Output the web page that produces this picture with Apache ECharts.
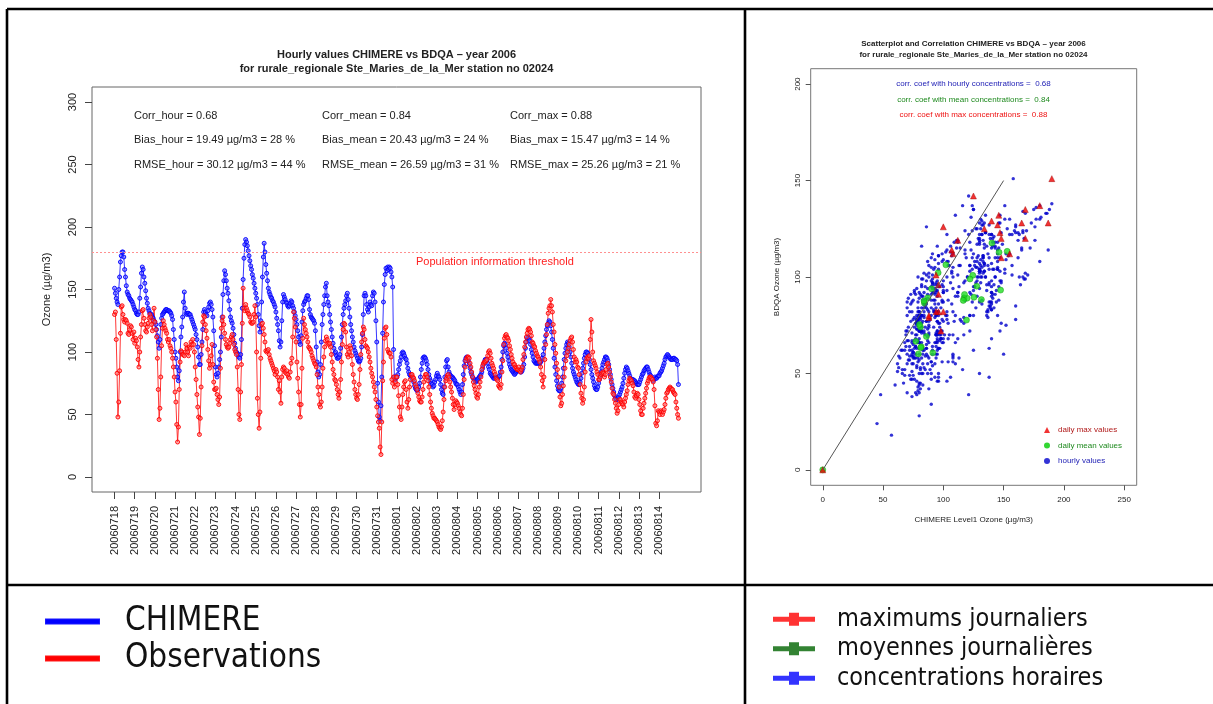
<!DOCTYPE html>
<html>
<head>
<meta charset="utf-8">
<script src="https://cdn.jsdelivr.net/npm/echarts@6/dist/echarts.min.js"></script>
<style>
  html, body { margin: 0; padding: 0; background: #ffffff; }
  #chart { width: 1213px; height: 704px; }
</style>
</head>
<body>
<div id="chart"></div>
<script>
// ---- Data: hourly ozone at Ste_Maries_de_la_Mer, 2006-07-18 .. 2006-08-14 (24 values per day) ----
const dayLabels = ['20060718','20060719','20060720','20060721','20060722','20060723','20060724',
  '20060725','20060726','20060727','20060728','20060729','20060730','20060731','20060801',
  '20060802','20060803','20060804','20060805','20060806','20060807','20060808','20060809',
  '20060810','20060811','20060812','20060813','20060814'];

// CHIMERE model, µg/m3
const chimere = [
  151,147,143,140,138,150,160,172,177,180,180,176,166,160,153,148,146,145,143,142,141,140,138,136,
  134,133,131,130,130,132,143,152,163,168,166,160,155,149,143,139,135,133,131,130,130,128,127,125,
  124,122,118,113,108,103,110,122,127,130,131,132,133,134,134,133,133,133,132,131,129,126,118,110,
  100,95,88,80,77,85,100,112,120,128,140,148,135,131,130,131,131,130,130,128,126,124,122,120,
  118,114,110,104,96,90,90,98,108,118,132,134,132,130,129,133,136,139,140,138,134,128,117,105,
  88,82,80,83,88,94,100,112,128,146,157,165,162,157,151,147,141,134,128,125,123,119,114,107,
  103,100,99,98,96,95,98,110,135,158,175,186,190,188,185,181,177,173,169,166,162,159,155,151,
  147,143,138,130,121,116,125,140,160,176,187,180,170,163,157,151,148,146,144,143,141,140,138,136,
  132,127,122,117,109,104,108,125,140,146,144,142,140,139,137,136,137,139,141,140,137,135,132,129,
  126,122,117,112,108,106,113,124,133,138,140,141,143,145,145,142,134,130,128,127,126,125,123,117,
  104,92,84,80,82,90,108,122,130,138,145,152,155,145,140,137,130,124,118,112,107,103,99,100,
  97,95,95,96,98,103,112,122,130,135,138,141,145,147,142,135,128,122,117,112,108,104,101,99,
  97,95,93,92,93,95,104,114,130,145,147,145,138,134,132,136,140,138,137,145,148,147,140,125,
  108,75,60,48,45,57,80,115,140,154,162,167,165,168,166,168,167,164,160,152,102,80,78,80,
  80,82,86,90,93,96,99,100,99,97,95,94,91,87,84,82,81,80,79,78,76,73,71,70,
  69,70,72,75,80,86,91,95,96,96,95,93,90,86,82,79,77,75,74,72,73,76,78,81,
  83,81,80,78,74,70,67,66,72,80,88,93,94,88,84,82,81,80,80,79,78,77,75,74,
  74,72,70,68,66,68,74,82,89,93,95,96,95,93,90,87,84,82,80,79,78,77,76,77,
  78,79,80,81,82,84,87,90,92,94,94,93,91,88,86,83,82,81,80,79,79,80,80,79,
  79,80,81,84,88,94,100,105,107,106,103,99,96,93,90,88,86,85,84,83,82,83,84,85,
  86,85,85,84,84,85,87,90,96,103,108,111,112,111,109,106,102,99,96,93,92,91,91,91,
  91,91,91,92,93,95,98,103,108,113,118,121,123,125,124,121,116,110,103,95,88,82,77,73,
  70,69,69,71,75,80,87,94,99,103,106,108,107,104,100,96,91,87,84,82,80,78,76,75,
  74,74,76,79,83,87,91,95,98,100,100,99,97,94,90,86,82,79,76,73,71,70,70,72,
  75,78,81,84,87,90,92,94,96,96,95,93,90,86,82,78,74,71,68,65,63,62,62,63,
  64,66,68,70,72,75,79,83,86,88,87,85,83,81,79,78,78,78,77,77,76,75,74,74,
  74,76,78,80,82,83,85,86,87,88,88,86,84,82,81,79,78,77,78,80,79,79,80,81,
  81,83,84,85,87,89,91,94,96,97,98,97,96,95,94,94,94,95,95,94,94,93,90,74
];

// BDQA observations, µg/m3
const observations = [
  130,132,110,83,48,60,85,115,136,137,130,126,124,126,125,123,115,114,118,121,120,115,110,116,
  107,111,109,104,94,88,100,112,122,133,134,127,122,117,116,120,123,127,130,128,122,117,125,135,
  124,118,112,95,70,46,55,80,105,119,125,122,119,117,115,110,108,110,105,103,100,95,88,80,
  68,60,42,28,40,70,92,101,100,98,98,97,100,106,103,100,97,104,103,108,106,110,106,100,
  88,78,66,56,48,34,47,72,105,124,129,128,122,117,111,102,93,87,90,97,106,90,76,70,
  70,71,66,62,58,64,87,119,125,128,122,115,110,106,104,103,104,107,110,112,114,110,106,102,
  100,98,88,70,50,46,68,90,123,151,135,133,138,135,133,131,130,128,124,123,123,124,130,137,
  128,100,63,50,39,52,95,122,123,119,114,108,101,100,101,102,98,95,93,91,89,87,85,82,
  86,84,80,70,77,68,59,80,86,88,87,84,83,85,82,80,79,84,91,95,112,132,127,120,
  108,92,79,68,58,48,58,87,111,127,122,118,115,112,108,104,103,102,100,97,95,93,91,90,
  88,82,72,66,58,56,60,72,87,96,104,109,112,110,107,106,107,104,98,92,86,82,78,77,
  74,70,66,63,68,78,92,106,118,123,122,116,104,98,96,100,105,103,97,90,82,76,70,66,
  63,62,66,74,86,98,108,115,120,118,110,105,104,103,100,96,92,87,83,80,76,72,68,62,
  56,49,44,39,24,18,44,77,92,111,119,120,114,102,100,99,99,96,78,75,80,72,76,80,
  80,74,65,56,48,46,56,66,72,76,77,70,60,55,62,72,78,82,82,80,79,77,74,72,
  70,67,64,61,60,60,64,70,76,80,82,82,80,77,72,66,60,55,51,49,47,47,46,45,
  44,42,40,39,38,40,45,52,62,72,77,79,81,82,80,76,72,68,63,58,54,58,61,60,
  59,57,55,52,50,49,55,66,78,88,93,95,96,96,95,91,88,84,80,76,73,70,67,64,
  63,66,72,76,80,86,89,91,92,92,93,94,97,100,101,99,95,91,89,87,84,82,79,78,
  77,73,72,71,74,84,93,106,111,113,114,112,111,109,105,102,98,95,92,90,90,88,87,86,
  86,88,85,84,86,88,94,98,104,108,112,115,118,119,118,116,113,108,107,105,104,101,99,97,
  96,94,92,88,82,77,72,80,94,106,114,122,131,135,137,142,137,132,122,116,106,99,91,86,
  80,72,64,57,59,66,73,80,87,93,97,100,103,106,109,111,112,108,102,96,92,94,92,88,
  87,82,74,67,63,59,62,72,84,92,95,96,95,97,110,126,116,100,93,91,89,87,84,82,
  78,78,80,82,83,84,83,80,82,86,90,91,88,84,80,76,71,67,66,62,59,55,51,53,
  58,62,62,60,59,58,56,60,63,66,69,74,77,79,78,77,75,73,68,64,63,65,67,66,
  62,58,53,50,50,55,59,63,67,71,75,77,79,80,80,79,78,76,70,57,43,41,45,53,
  52,50,53,52,50,52,54,58,63,67,68,70,71,72,71,70,70,68,67,66,60,55,50,47
];

// Axis ticks
const ozoneTicks = [0, 50, 100, 150, 200, 250, 300];
const scatterTicksX = [0, 50, 100, 150, 200, 250];
const scatterTicksY = [0, 50, 100, 150, 200];

// Reference values
const informationThreshold = 180;
const identityLine = [0, 150];
const originPoint = [0, 0];

// Statistics printed in the time-series panel
const statRows = [
  ['Corr_hour = 0.68', 'Corr_mean = 0.84', 'Corr_max = 0.88'],
  ['Bias_hour = 19.49 \u00b5g/m3 = 28 %', 'Bias_mean = 20.43 \u00b5g/m3 = 24 %', 'Bias_max = 15.47 \u00b5g/m3 = 14 %'],
  ['RMSE_hour = 30.12 \u00b5g/m3 = 44 %', 'RMSE_mean = 26.59 \u00b5g/m3 = 31 %', 'RMSE_max = 25.26 \u00b5g/m3 = 21 %']
];
const corrLines = [
  ['corr. coef with hourly concentrations =  0.68', '#1c1cb4'],
  ['corr. coef with mean concentrations =  0.84', '#1f8a1f'],
  ['corr. coef with max concentrations =  0.88', '#ee1111']
];

// ---- Derived series ----
const HOURS = 24;
const hourIndex = chimere.map((_, i) => i);
const chimereLine = chimere.map((v, i) => [hourIndex[i], v]);
const obsLine = observations.map((v, i) => [hourIndex[i], v]);
const hourlyPairs = chimere.map((v, i) => [v, observations[i]]);

function perDay(arr, fn) {
  const out = [];
  for (let d = 0; d < dayLabels.length; d++) out.push(fn(arr.slice(d * HOURS, (d + 1) * HOURS)));
  return out;
}
const mean = a => a.reduce((s, v) => s + v, 0) / a.length;
const max = a => Math.max.apply(null, a);
const chimMean = perDay(chimere, mean), obsMean = perDay(observations, mean);
const chimMax = perDay(chimere, max), obsMax = perDay(observations, max);
const meanPairs = [originPoint].concat(chimMean.map((v, d) => [v, obsMean[d]]));
const maxPairs = [originPoint].concat(chimMax.map((v, d) => [v, obsMax[d]]));
const dayTicks = dayLabels.map((_, d) => d * HOURS);

// ---- Styling ----
const FONT = "'Liberation Sans', Arial, Helvetica, sans-serif";
const NARROW = "'Liberation Sans Narrow', 'Arial Narrow', 'DejaVu Sans Condensed', sans-serif";
const INK = '#222';

const SER_MAX = 'maximums journaliers';
const SER_MEAN = 'moyennes journali\u00e8res';
const SER_HOUR = 'concentrations horaires';
const plotLegendNames = {};
plotLegendNames[SER_MAX] = 'daily max values';
plotLegendNames[SER_MEAN] = 'daily mean values';
plotLegendNames[SER_HOUR] = 'hourly values';

// Table frame and panel annotations
const frame = [
  [7, 9, 1213, 9], [7, 9, 7, 704], [745, 9, 745, 704], [7, 585, 1213, 585]
].map(s => ({
  type: 'line', shape: { x1: s[0], y1: s[1], x2: s[2], y2: s[3] },
  style: { stroke: '#000', lineWidth: 2.6 }, silent: true
}));

const statColX = [134, 322, 510];
const statRowY = [116, 140, 165];
const statTexts = [];
statRows.forEach((row, r) => row.forEach((t, c) => statTexts.push({
  type: 'text', x: statColX[c], y: statRowY[r],
  style: { text: t, fill: INK, font: '11px ' + FONT, textAlign: 'left', textVerticalAlign: 'middle' }
})));

const corrTexts = corrLines.map((c, i) => ({
  type: 'text', x: 973.5, y: [83.5, 99.5, 115][i],
  style: { text: c[0], fill: c[1], font: '8px ' + FONT, textAlign: 'center', textVerticalAlign: 'middle' }
}));

const thresholdText = {
  type: 'text', x: 416, y: 262,
  style: { text: 'Population information threshold', fill: '#ff2020', font: '11px ' + FONT,
           textAlign: 'left', textVerticalAlign: 'middle' }
};

const crossIcon = 'path://M0,4H16V0H26V4H42V9H26V13H16V9H0Z';

const hiddenLine = { show: false, onZero: false };

const option = {
  animation: false,
  backgroundColor: '#ffffff',
  textStyle: { fontFamily: FONT },
  title: [
    {
      text: 'Hourly values CHIMERE vs BDQA \u2013 year 2006\nfor rurale_regionale Ste_Maries_de_la_Mer station no 02024',
      left: 396.5, top: 48, textAlign: 'center', padding: 0,
      textStyle: { fontSize: 11, fontWeight: 'bold', color: INK, lineHeight: 14, fontFamily: FONT }
    },
    {
      text: 'Scatterplot and Correlation CHIMERE vs BDQA \u2013 year 2006\nfor rurale_regionale Ste_Maries_de_la_Mer station no 02024',
      left: 973.5, top: 38.5, textAlign: 'center', padding: 0,
      textStyle: { fontSize: 8, fontWeight: 'bold', color: INK, lineHeight: 10.7, fontFamily: FONT }
    }
  ],
  grid: [
    { left: 92, top: 87, width: 609, height: 405, show: true, borderColor: '#666', borderWidth: 1, backgroundColor: 'transparent' },
    { left: 810.7, top: 68.7, width: 326, height: 416.6, show: true, borderColor: '#777', borderWidth: 1, backgroundColor: 'transparent' }
  ],
  xAxis: [
    {
      gridIndex: 0, type: 'value', min: -26.84, max: 697.84,
      axisLine: hiddenLine,
      splitLine: { show: false },
      axisTick: { show: true, length: 7, inside: false, customValues: dayTicks, lineStyle: { color: '#444' } },
      axisLabel: {
        show: true, customValues: dayTicks, rotate: 90, margin: 14,
        fontSize: 11, color: INK, fontFamily: FONT,
        formatter: v => dayLabels[Math.round(v / HOURS)]
      }
    },
    {
      gridIndex: 1, type: 'value', min: -10, max: 260.4,
      name: 'CHIMERE Level1 Ozone (\u00b5g/m3)', nameLocation: 'middle', nameGap: 30,
      nameTextStyle: { fontSize: 8, color: INK, fontFamily: FONT },
      axisLine: hiddenLine,
      splitLine: { show: false },
      axisTick: { show: true, length: 5, customValues: scatterTicksX, lineStyle: { color: '#555' } },
      axisLabel: { customValues: scatterTicksX, fontSize: 8, margin: 10, color: INK, fontFamily: FONT }
    }
  ],
  yAxis: [
    {
      gridIndex: 0, type: 'value', min: -12, max: 312,
      name: 'Ozone (\u00b5g/m3)', nameLocation: 'middle', nameGap: 40, nameRotate: 90,
      nameTextStyle: { fontSize: 11, color: INK, fontFamily: FONT },
      axisLine: hiddenLine,
      splitLine: { show: false },
      axisTick: { show: true, length: 7, customValues: ozoneTicks, lineStyle: { color: '#444' } },
      axisLabel: { customValues: ozoneTicks, rotate: 90, margin: 14, fontSize: 11, color: INK, fontFamily: FONT }
    },
    {
      gridIndex: 1, type: 'value', min: -8, max: 208,
      name: 'BDQA Ozone (\u00b5g/m3)', nameLocation: 'middle', nameGap: 30, nameRotate: 90,
      nameTextStyle: { fontSize: 8, color: INK, fontFamily: FONT },
      axisLine: hiddenLine,
      splitLine: { show: false },
      axisTick: { show: true, length: 5, customValues: scatterTicksY, lineStyle: { color: '#555' } },
      axisLabel: { customValues: scatterTicksY, rotate: 90, margin: 9, fontSize: 8, color: INK, fontFamily: FONT }
    }
  ],
  legend: [
    {
      orient: 'vertical', left: 45, top: 604, padding: 0, height: 100, selectedMode: false,
      icon: 'rect', itemWidth: 53, itemHeight: 4, itemGap: 2,
      textStyle: { fontSize: 33, lineHeight: 35, color: '#111', fontFamily: NARROW, padding: [0, 0, 0, 21] },
      data: [
        { name: 'CHIMERE', itemStyle: { color: '#0000ff' } },
        { name: 'Observations', itemStyle: { color: '#ff0000' } }
      ]
    },
    {
      orient: 'vertical', left: 773, top: 605, padding: 0, height: 100, selectedMode: false,
      icon: crossIcon, itemWidth: 44, itemHeight: 13, itemGap: 1,
      textStyle: { fontSize: 25, lineHeight: 28.5, color: '#111', fontFamily: NARROW, padding: [0, 0, 0, 16] },
      data: [
        { name: SER_MAX, itemStyle: { color: '#ff0000', borderWidth: 0 } },
        { name: SER_MEAN, itemStyle: { color: '#006400', borderWidth: 0 } },
        { name: SER_HOUR, itemStyle: { color: '#0000ff', borderWidth: 0 } }
      ]
    },
    {
      orient: 'vertical', left: 1044, top: 425, padding: 0, selectedMode: false,
      itemWidth: 6, itemHeight: 6, itemGap: 5.5,
      formatter: name => plotLegendNames[name],
      textStyle: { fontSize: 8, lineHeight: 10, fontFamily: FONT, padding: [0, 0, 0, 3] },
      data: [
        { name: SER_MAX, icon: 'triangle', itemStyle: { color: '#ee0000', borderWidth: 0 }, textStyle: { color: '#b01818' } },
        { name: SER_MEAN, icon: 'circle', itemStyle: { color: '#00cc00', borderWidth: 0 }, textStyle: { color: '#1f8a1f' } },
        { name: SER_HOUR, icon: 'circle', itemStyle: { color: '#0000cc', borderWidth: 0 }, textStyle: { color: '#1c1cb4' } }
      ]
    }
  ],
  series: [
    {
      name: 'CHIMERE', type: 'line', xAxisIndex: 0, yAxisIndex: 0,
      data: chimereLine, showAllSymbol: true,
      symbol: 'circle', symbolSize: 4,
      lineStyle: { color: 'rgba(20,20,255,0.85)', width: 1 },
      itemStyle: { color: 'rgba(90,90,255,0.55)', borderColor: 'rgba(0,0,255,0.9)', borderWidth: 1 },
      emphasis: { disabled: true }
    },
    {
      name: 'Observations', type: 'line', xAxisIndex: 0, yAxisIndex: 0,
      data: obsLine, showAllSymbol: true,
      symbol: 'circle', symbolSize: 4,
      lineStyle: { color: 'rgba(255,20,20,0.85)', width: 1 },
      itemStyle: { color: 'rgba(255,110,110,0.55)', borderColor: 'rgba(255,0,0,0.9)', borderWidth: 1 },
      emphasis: { disabled: true },
      markLine: {
        silent: true, symbol: 'none', label: { show: false },
        lineStyle: { color: '#ff9090', type: [2, 2], width: 1 },
        data: [{ yAxis: informationThreshold }]
      }
    },
    {
      name: SER_HOUR, type: 'scatter', xAxisIndex: 1, yAxisIndex: 1,
      data: hourlyPairs, symbol: 'circle', symbolSize: 3.4,
      itemStyle: { color: '#0000cc' }, emphasis: { disabled: true }
    },
    {
      name: 'identity', type: 'line', xAxisIndex: 1, yAxisIndex: 1,
      data: [[identityLine[0], identityLine[0]], [identityLine[1], identityLine[1]]],
      symbol: 'none', lineStyle: { color: '#555', width: 1 }, emphasis: { disabled: true }
    },
    {
      name: SER_MEAN, type: 'scatter', xAxisIndex: 1, yAxisIndex: 1,
      data: meanPairs, symbol: 'circle', symbolSize: 6,
      itemStyle: { color: '#22dd22', borderColor: '#119911', borderWidth: 0.6 }, emphasis: { disabled: true }
    },
    {
      name: SER_MAX, type: 'scatter', xAxisIndex: 1, yAxisIndex: 1,
      data: maxPairs, symbol: 'triangle', symbolSize: 6,
      itemStyle: { color: '#ee0000', borderColor: '#990000', borderWidth: 0.5 }, emphasis: { disabled: true }
    }
  ],
  graphic: frame.concat(statTexts, corrTexts, [thresholdText])
};

const chart = echarts.init(document.getElementById('chart'), null, { renderer: 'canvas' });
chart.setOption(option);
</script>
</body>
</html>
